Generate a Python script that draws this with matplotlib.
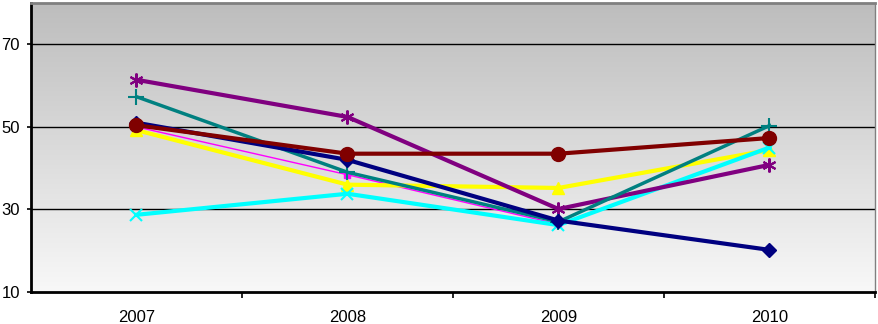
import matplotlib.pyplot as plt
import matplotlib
import numpy as np
from matplotlib.colors import LinearSegmentedColormap

matplotlib.rcParams['font.family'] = ['Liberation Sans', 'DejaVu Sans']

# 数据
years = ['2007', '2008', '2009', '2010']
navy_vals = [51.0, 42.0, 27.3, 20.2]
magenta_vals = [50.0, 38.4, 26.4, np.nan]
yellow_vals = [49.2, 36.0, 35.2, 44.4]
cyan_vals = [28.7, 33.8, 26.2, 45.0]
purple_vals = [61.4, 52.4, 30.1, 40.8]
darkred_vals = [50.4, 43.5, 43.5, 47.3]
teal_vals = [57.3, 39.0, 27.0, 50.3]

fig = plt.figure(figsize=(8.79, 3.24), dpi=100)
ax = fig.add_axes([31 / 879, 32 / 324, 844 / 879, 289 / 324])

# 渐变背景
cmap = LinearSegmentedColormap.from_list('bg', ['#f8f8f8', '#bdbdbd'])
grad = np.linspace(0, 1, 256).reshape(-1, 1)
ax.imshow(grad, cmap=cmap, aspect='auto', origin='lower',
          extent=[0, 1, 0, 1], transform=ax.transAxes, zorder=0)

x = np.arange(len(years))
ax.set_xlim(-0.5, 3.5)
ax.set_ylim(10, 80)

for yv in [30, 50, 70]:
    ax.axhline(yv, color='black', linewidth=1.0, zorder=1)

ax.plot(x, navy_vals, color='#000080', linewidth=3, marker='D', markersize=7, zorder=4)
ax.plot(x, magenta_vals, color='#ff00ff', linewidth=1, marker='s', markersize=5, zorder=3)
ax.plot(x, yellow_vals, color='#ffff00', linewidth=3, marker='^', markersize=8, zorder=3)
ax.plot(x, cyan_vals, color='#00ffff', linewidth=3, marker='x', markersize=8,
        markeredgewidth=1.5, zorder=3)
ax.plot(x, purple_vals, color='#800080', linewidth=3, marker=(6, 2, 0), markersize=10,
        markeredgewidth=1.5, zorder=3)
ax.plot(x, darkred_vals, color='#800000', linewidth=3, marker='o', markersize=10, zorder=5)
ax.plot(x, teal_vals, color='#008080', linewidth=2.5, marker='+', markersize=11,
        markeredgewidth=1.5, zorder=3)

ax.set_yticks([10, 30, 50, 70])
ax.set_yticklabels(['10', '30', '50', '70'], fontsize=12)
ax.set_xticks([0.5, 1.5, 2.5, 3.5])
ax.set_xticklabels([])
ax.set_xticks(x, minor=True)
ax.set_xticklabels(years, minor=True, fontsize=12)
ax.tick_params(axis='x', which='minor', length=0, pad=13)
ax.tick_params(axis='x', which='major', length=4, width=1.2, direction='out')
ax.tick_params(axis='y', length=3, width=1.2, direction='out', pad=5)

ax.spines['left'].set_linewidth(2)
ax.spines['bottom'].set_linewidth(2)
ax.spines['top'].set_color('#808080')
ax.spines['top'].set_linewidth(2)
ax.spines['right'].set_color('#808080')
ax.spines['right'].set_linewidth(1)

fig.savefig('out.png', dpi=100)
